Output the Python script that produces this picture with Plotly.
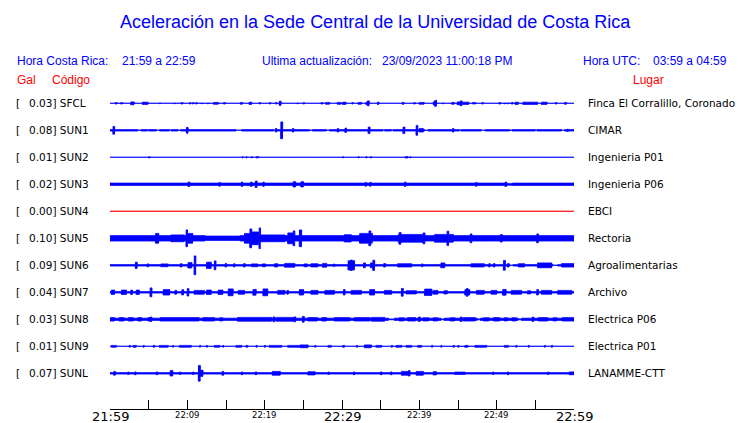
import numpy as np
import plotly.graph_objects as go

# ---------------- data ----------------
CODES = ["SFCL", "SUN1", "SUN2", "SUN3", "SUN4", "SUN5", "SUN6", "SUN7", "SUN8", "SUN9", "SUNL"]
GAL = ["0.03", "0.08", "0.01", "0.02", "0.00", "0.10", "0.09", "0.04", "0.03", "0.01", "0.07"]
PLACES = ["Finca El Corralillo, Coronado", "CIMAR", "Ingenieria P01", "Ingenieria P06", "EBCI",
          "Rectoria", "Agroalimentarias", "Archivo", "Electrica P06", "Electrica P01", "LANAMME-CTT"]

TICK_MINUTES = [0, 10, 20, 30, 40, 50, 60]
TICK_LABELS = ["21:59", "22:09", "22:19", "22:29", "22:39", "22:49", "22:59"]
TICK_MAJOR = [True, False, False, True, False, False, True]

# background half-amplitude of each trace (display counts)
BASE_AMP = [0.5, 1.3, 0.6, 1.8, 0.5, 3.3, 1.3, 1.3, 1.7, 0.6, 1.3]

# bursts/spikes: (start minute, end minute, half-amplitude in display counts)
EV_SFCL = [(0.7, 0.9, 1.3), (1.4, 1.6, 1.3), (2.7, 3.1, 2), (4.2, 4.9, 1.7), (6.4, 6.55, 1), (8.3, 8.45, 1),
           (9.2, 9.4, 1.3), (10.3, 10.45, 1.3), (10.7, 10.85, 1.3), (11.1, 11.25, 1.3), (11.8, 11.95, 1),
           (12.6, 12.75, 1), (13.4, 14.0, 1.5), (14.7, 14.9, 1.3), (16.9, 17.1, 1.5), (18.0, 18.3, 1.7),
           (19.3, 19.45, 1.3), (20.6, 20.75, 1.3), (21.4, 21.55, 1.3), (21.9, 22.1, 2.7), (24.2, 24.35, 1),
           (25.0, 25.15, 1.3), (27.3, 27.5, 1.3), (27.9, 28.4, 1.5), (29.4, 29.9, 1.5), (30.1, 30.5, 1.7),
           (31.3, 31.45, 1.3), (32.1, 32.5, 1.5), (33.1, 33.3, 1.7), (33.3, 33.5, 3), (34.6, 34.75, 1.7),
           (37.8, 38.0, 1.5), (39.3, 39.45, 1.3), (40.0, 40.6, 1.5), (41.8, 42.0, 2), (42.0, 42.2, 3.5),
           (43.0, 43.15, 1), (44.2, 44.5, 1.5), (44.9, 45.3, 2), (45.3, 45.5, 3), (45.6, 46.4, 1.7),
           (46.9, 47.05, 1.3), (47.1, 47.3, 1.3), (48.1, 48.3, 1.3), (50.3, 50.5, 1.3), (51.0, 51.2, 1),
           (51.4, 51.6, 1), (51.9, 52.1, 1.3), (52.4, 52.8, 1.7), (53.4, 55.3, 1.7), (55.8, 56.5, 1.7),
           (57.6, 57.8, 1.3), (58.8, 59.0, 1.5)]
EV_SUN1 = [(3.6, 4.0, 0.5), (4.85, 5.0, 0.5), (6.0, 6.4, 0.5), (7.7, 7.9, 0.5), (8.8, 9.1, 0.5),
           (16.3, 17.0, 0.5), (21.2, 21.35, 0.5), (25.8, 26.2, 0.5), (28.0, 28.4, 0.5), (35.3, 35.5, 0.5),
           (36.4, 36.6, 0.5), (40.7, 41.1, 0.5), (45.2, 45.4, 0.5), (48.0, 48.5, 0.5), (51.7, 52.0, 0.5),
           (55.0, 55.2, 0.5), (58.4, 58.8, 0.5),
           (0.4, 0.6, 4.5), (9.9, 10.1, 3.5), (21.4, 21.55, 2.3), (22.1, 22.3, 9), (23.6, 23.75, 2.3),
           (29.4, 29.55, 2.3), (30.4, 30.55, 2.8), (33.4, 33.6, 3.8), (37.9, 38.1, 3.8), (39.6, 39.8, 5.5),
           (40.0, 40.5, 2.3), (44.3, 44.45, 2.3), (59.1, 59.25, 1.7)]
EV_SUN2 = [(5.0, 5.15, 1.2), (17.1, 17.2, 1.2), (17.6, 17.7, 1.2), (18.3, 18.4, 1.3), (18.9, 19.0, 1.2),
           (19.1, 19.2, 1.3), (30.1, 30.2, 1.2), (32.1, 32.2, 1.2), (33.1, 33.2, 1.3), (33.7, 33.8, 1.3),
           (38.2, 38.5, 1.3), (38.8, 38.9, 1.2)]
EV_SUN3 = [(10.1, 10.3, 2.8), (14.1, 14.25, 2.5), (17.0, 17.15, 2.8), (18.2, 18.35, 2.8), (18.8, 19.0, 3.8),
           (19.8, 19.95, 2.8), (23.7, 24.0, 3.2), (24.7, 25.0, 3.2), (33.0, 33.15, 2.5), (33.6, 33.75, 2.5),
           (38.1, 38.25, 2.8), (47.3, 47.45, 2.5), (51.1, 51.25, 2.8), (51.4, 52.0, 1.5)]
EV_SUN4 = []
EV_SUN5 = [(12.3, 16.8, 2.8), (5.9, 6.3, 5.5), (7.9, 9.6, 4.0), (9.85, 10.0, 9), (10.0, 10.7, 5.5), (17.4, 18.1, 5.5),
           (18.1, 18.3, 10), (18.3, 19.2, 7), (19.3, 19.45, 11), (19.5, 22.6, 4.0), (23.0, 23.7, 6),
           (23.7, 23.9, 8), (24.5, 24.75, 9), (30.3, 31.2, 4.2), (32.3, 33.5, 5.5), (33.5, 33.7, 8),
           (33.7, 33.9, 5.5), (37.3, 40.7, 4.5), (37.4, 37.6, 6.5), (40.5, 40.7, 6), (42.0, 43.6, 4.5),
           (43.6, 43.8, 7.7), (43.8, 44.4, 4.5), (46.6, 46.8, 5), (50.5, 50.7, 4.3), (55.2, 55.4, 5)]
EV_SUN6 = [(51.7, 52.1, 0.7), (57.3, 57.9, 0.7),
           (3.3, 3.5, 3.7), (4.8, 5.0, 2), (6.6, 7.5, 2), (9.1, 9.3, 2.2), (10.1, 10.6, 3.3), (10.9, 11.1, 10),
           (12.5, 13.1, 3.7), (13.5, 13.7, 5), (14.9, 15.05, 2.3), (16.0, 16.15, 2.2), (17.3, 17.45, 2.3),
           (18.3, 19.1, 2), (19.7, 20.1, 2), (21.3, 21.7, 2.2), (22.6, 23.9, 2.5), (25.1, 25.5, 2),
           (26.0, 26.9, 2.2), (27.5, 28.0, 2.5), (28.9, 29.05, 1.8), (30.8, 31.6, 5.2), (31.1, 31.3, 5.8),
           (32.8, 33.0, 3), (33.7, 33.9, 3), (34.0, 34.2, 5.7), (35.4, 35.6, 2.3), (37.2, 39.0, 2.2),
           (40.3, 40.45, 2), (42.8, 43.3, 3), (46.7, 48.4, 2.2), (49.0, 49.15, 2.3), (49.6, 49.75, 2.3),
           (50.9, 51.1, 5.5), (51.4, 51.6, 2.3), (52.8, 53.6, 2.2), (55.3, 57.1, 3), (58.4, 60.0, 2.3)]
EV_SUN7 = [(0.2, 0.6, 2.8), (1.5, 2.1, 2.8), (2.7, 2.9, 2.8), (3.4, 3.8, 2.8), (5.2, 5.4, 5), (6.9, 7.7, 3.3),
           (8.4, 8.6, 2.5), (9.3, 9.5, 3.2), (10.0, 10.2, 4.3), (10.9, 12.2, 2.5), (12.5, 13.1, 2.8),
           (14.0, 14.6, 2.8), (15.3, 15.9, 4), (16.6, 17.4, 2.5), (18.5, 18.9, 3.5), (19.8, 20.4, 4),
           (21.7, 22.6, 2.5), (22.9, 23.05, 2.5), (24.5, 25.0, 3.3), (26.0, 26.9, 2.5), (27.8, 29.0, 2.5),
           (30.2, 30.4, 3.3), (31.2, 32.5, 2.5), (33.6, 34.2, 3.3), (35.5, 36.4, 2.5), (37.7, 37.9, 4.5),
           (38.3, 39.6, 2.2), (40.7, 41.6, 3.8), (41.8, 42.4, 2.5), (43.2, 43.6, 2.2), (45.9, 46.5, 3.3),
           (46.1, 46.3, 4.5), (47.4, 48.4, 2.5), (49.3, 50.0, 2.5), (50.8, 51.2, 3.5), (51.9, 53.2, 2.5),
           (54.0, 54.4, 2.2), (55.2, 55.4, 3.3), (55.8, 57.1, 2.5), (57.9, 59.7, 2.5)]
EV_SUN8 = [(36.0, 36.8, 1.0), (42.8, 43.2, 1.0), (47.5, 47.9, 1.0), (52.8, 53.2, 1.0),
           (0.0, 0.6, 2.3), (1.2, 1.8, 2.3), (2.4, 3.0, 2.3), (3.6, 4.1, 2.3), (4.9, 5.2, 2.3), (5.2, 5.4, 2.8),
           (6.5, 11.5, 2.3), (12.0, 13.5, 2.3), (14.2, 14.6, 2.2), (16.5, 20.9, 2.5), (21.1, 21.3, 3),
           (21.5, 23.8, 2.5), (23.8, 24.0, 3), (24.9, 25.1, 3.5), (25.6, 26.8, 2.3), (27.4, 28.0, 2.3),
           (29.0, 31.0, 2.3), (31.6, 33.6, 2.3), (33.8, 35.5, 2.5), (37.4, 38.0, 2.2), (38.5, 39.5, 2.3),
           (39.9, 40.1, 2.8), (40.5, 41.2, 2.2), (41.8, 42.4, 2.2), (44.0, 44.6, 2.2), (45.3, 45.5, 2.8),
           (45.7, 47.2, 2.3), (48.3, 49.0, 2.2), (49.6, 50.4, 2.3), (51.0, 51.4, 2.2), (52.0, 52.5, 2.2),
           (54.6, 54.8, 2.8), (55.4, 56.6, 2.3), (57.3, 57.8, 2.2), (58.5, 60.0, 2.3)]
EV_SUN9 = [(0.2, 0.8, 1.5), (2.5, 2.6, 1.5), (3.0, 3.4, 1.5), (4.3, 4.4, 1.5), (5.6, 5.8, 1.5), (6.4, 7.5, 1.5),
           (8.1, 8.2, 1.5), (9.0, 10.5, 1.5), (11.6, 11.7, 1.5), (12.5, 12.6, 1.5), (13.5, 14.2, 1.5),
           (14.6, 14.7, 1.5), (16.3, 17.0, 1.5), (17.6, 17.8, 1.5), (18.9, 19.0, 1.5), (20.0, 20.1, 1.5),
           (20.6, 22.2, 1.5), (23.0, 24.6, 1.5), (24.6, 25.6, 2), (26.5, 26.6, 1.5), (28.2, 28.6, 1.5),
           (30.1, 30.3, 1.5), (31.9, 32.0, 1.5), (32.9, 33.8, 2), (34.4, 35.1, 1.5), (36.4, 36.5, 1.5),
           (37.0, 37.7, 1.5), (38.3, 39.0, 1.5), (39.8, 40.3, 1.5), (41.6, 41.7, 1.5), (42.8, 42.9, 1.5),
           (44.4, 44.5, 1.5), (45.0, 45.1, 1.5), (45.9, 46.3, 1.5), (47.2, 48.7, 1.5), (51.0, 51.5, 1.5),
           (52.5, 52.6, 1.5), (54.1, 54.2, 1.5), (56.2, 56.3, 1.5), (57.1, 57.2, 1.5)]
EV_SUNL = [(0.5, 0.7, 2.5), (2.3, 2.45, 1.8), (3.2, 3.35, 2), (6.0, 6.15, 2), (7.8, 8.1, 3.3), (9.0, 9.15, 1.8),
           (10.7, 10.85, 1.8), (11.45, 11.65, 8.5), (11.65, 12.0, 3.7), (14.5, 14.7, 2.5), (17.0, 17.15, 2),
           (18.8, 18.95, 2), (21.0, 22.0, 2.5), (25.6, 26.5, 2.2), (28.2, 28.35, 1.8), (31.5, 31.65, 2),
           (35.0, 35.15, 2), (36.3, 36.45, 2), (37.7, 38.8, 2.5), (38.6, 38.8, 3.3), (39.6, 40.5, 2.5),
           (41.8, 42.2, 2.2), (44.6, 45.9, 1.8), (49.5, 49.65, 1.8), (51.4, 51.55, 2), (56.6, 56.75, 1.8),
           (59.4, 60.0, 2)]

EVENTS = [EV_SFCL, EV_SUN1, EV_SUN2, EV_SUN3, EV_SUN4, EV_SUN5, EV_SUN6, EV_SUN7, EV_SUN8, EV_SUN9, EV_SUNL]

# ---------------- styling / layout ----------------
W, H = 740, 423
ML, MR, MT, MB = 110, 166, 90, 14
PW, PH = W - ML - MR, H - MT - MB
COUNTS_PER_ROW = 27.0
Y_TOP, Y_BOT = 0.493, -11.322
BLUE = "#0000ff"
RED = "#ff0000"
TRACE_COLORS = [BLUE] * 11
TRACE_COLORS[4] = RED


def px_x(px):
    return (px - ML) / PW


def px_y(py):
    return (H - MB - py) / PH


fig = go.Figure()
t = np.linspace(0, 60, 2401)
for i, code in enumerate(CODES):
    env = np.full_like(t, BASE_AMP[i])
    evs = EVENTS[i]
    for (a, b, amp) in evs:
        if amp < BASE_AMP[i]:
            env[(t >= a) & (t <= b)] = amp
    for (a, b, amp) in evs:
        if amp >= BASE_AMP[i]:
            m = (t >= a) & (t <= b)
            env[m] = np.maximum(env[m], amp)
    env = np.maximum(env - 0.6, 0) / COUNTS_PER_ROW
    off = -i
    xs = np.concatenate([t, t[::-1]])
    ys = np.concatenate([off + env, (off - env)[::-1]])
    fig.add_trace(go.Scatter(x=xs, y=ys, mode="lines", fill="toself",
                             fillcolor=TRACE_COLORS[i],
                             line=dict(color=TRACE_COLORS[i], width=1, simplify=False, shape="hv"),
                             hoverinfo="skip", showlegend=False))

ann = []
HDR = "Liberation Sans, Arial, sans-serif"
LBL = "DejaVu Sans, sans-serif"


def add(text, px, py, size, color, family, xanchor="left"):
    ann.append(dict(text=text, x=px_x(px), y=px_y(py), xref="paper", yref="paper",
                    xanchor=xanchor, yanchor="middle", showarrow=False,
                    font=dict(size=size, color=color, family=family)))


add("Aceleración en la Sede Central de la Universidad de Costa Rica", 375, 22, 18, BLUE, HDR, "center")
add("Hora Costa Rica:", 15, 61, 12, BLUE, HDR)
add("21:59 a 22:59", 120, 61, 12, BLUE, HDR)
add("Ultima actualización:", 260, 61, 12, BLUE, HDR)
add("23/09/2023 11:00:18 PM", 380, 61, 12, BLUE, HDR)
add("Hora UTC:", 581, 61, 12, BLUE, HDR)
add("03:59 a 04:59", 651, 61, 12, BLUE, HDR)
add("Gal", 15, 80, 12, RED, HDR)
add("Código", 50, 80, 12, RED, HDR)
add("Lugar", 631, 80, 12, RED, HDR)

for i, code in enumerate(CODES):
    py = 103.3 + 27.0 * i
    add("[", 14, py, 10.5, "black", LBL)
    add(f"{GAL[i]}] {code}", 27, py, 10.5, "black", LBL)
    add(PLACES[i], 586, py, 10.5, "black", LBL)

for m, lab, major in zip(TICK_MINUTES, TICK_LABELS, TICK_MAJOR):
    ann.append(dict(text=lab, x=m, y=px_y(416 if major else 415), xref="x", yref="paper",
                    xanchor="center", yanchor="middle", showarrow=False,
                    font=dict(size=13 if major else 8.5, color="black", family=LBL)))

fig.update_layout(
    width=W, height=H, margin=dict(l=ML, r=MR, t=MT, b=MB),
    paper_bgcolor="white", plot_bgcolor="white",
    annotations=ann,
    xaxis=dict(range=[0, 60], showline=True, linecolor="black", linewidth=1,
               ticks="inside", ticklen=9, tickcolor="black", tickwidth=1,
               tickvals=list(range(0, 61, 5)), showticklabels=False,
               showgrid=False, zeroline=False, fixedrange=True),
    yaxis=dict(range=[Y_BOT, Y_TOP], visible=False, fixedrange=True),
)

fig.write_html("out.html", config={"displayModeBar": False},
               post_script="document.body.style.margin='0';document.body.style.overflow='hidden';")
